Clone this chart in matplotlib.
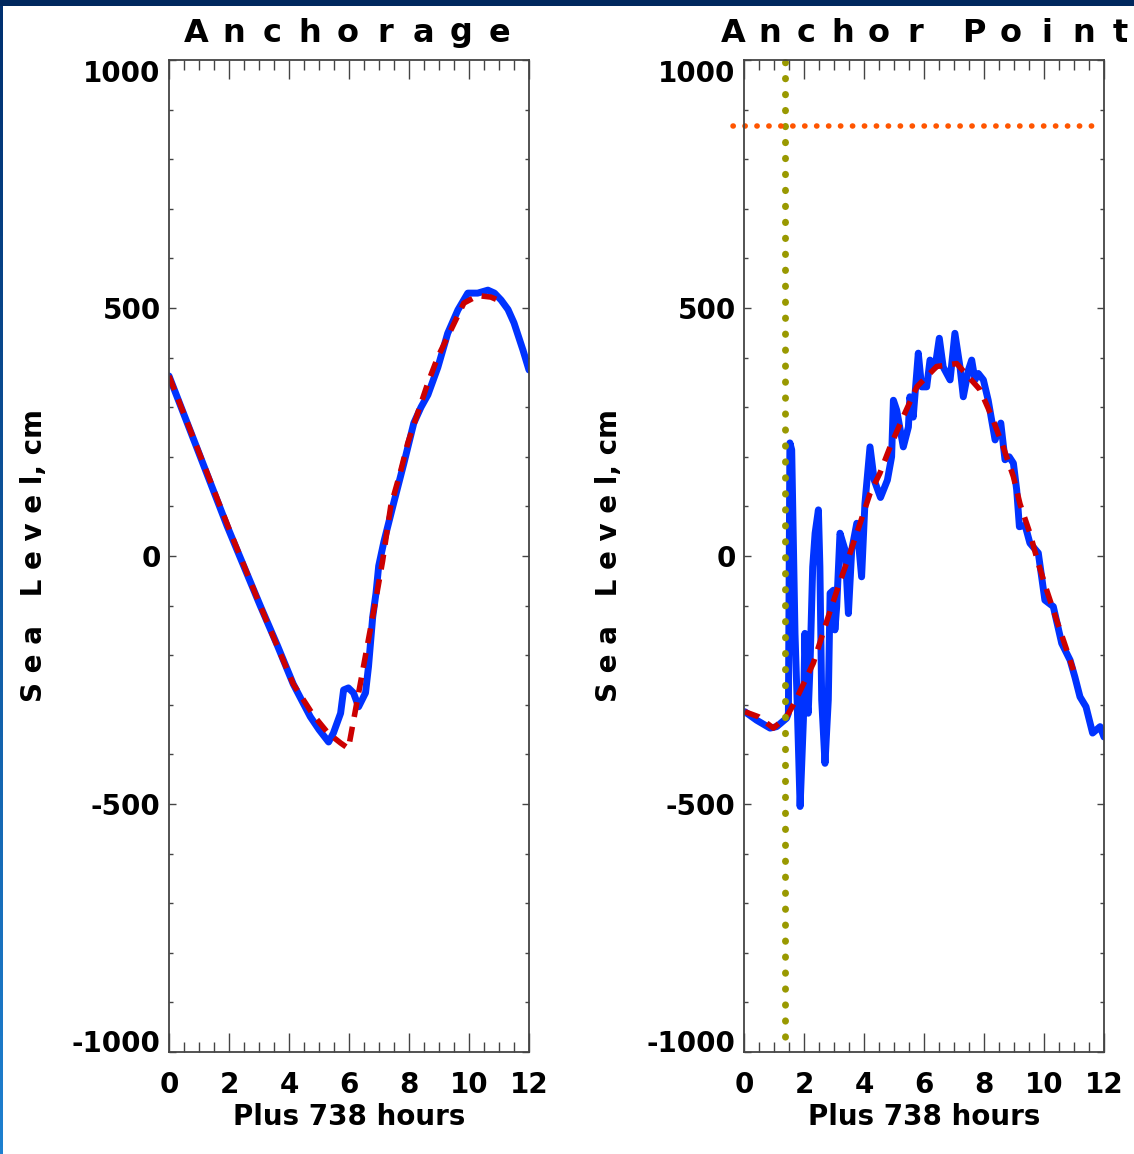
import matplotlib
matplotlib.use("Agg")
import matplotlib.pyplot as plt
import numpy as np
from matplotlib.ticker import MultipleLocator

# Anchorage: observed and model sea level (hours after 738 h, cm)
anc_obs_t = [0, 0.5, 1.0, 1.94, 3.04, 3.61, 4.14, 4.45, 4.71, 5.0, 5.32, 5.48,
             5.72, 5.82, 5.98, 6.15, 6.32, 6.55, 6.65, 6.79, 6.9, 6.99, 7.16,
             7.49, 7.83, 8.16, 8.4, 8.63, 8.96, 9.29, 9.63, 9.96, 10.29,
             10.63, 10.85, 11.07, 11.3, 11.5, 11.8, 12.0]
anc_obs_v = [363, 285, 207, 60, -100, -180, -258, -294, -324, -350, -375, -357,
             -317, -270, -266, -276, -304, -276, -223, -123, -75, -20, 28,
             107, 187, 268, 300, 325, 380, 449, 496, 530, 530,
             536, 530, 516, 497, 470, 415, 375]
anc_mod_t = [0, 2, 3.04, 4.14, 4.8, 5.3, 5.72, 5.98, 6.4, 6.89, 7.12, 7.39,
             7.73, 7.96, 8.29, 8.63, 8.96, 9.40, 9.83, 10.3, 10.73, 11.0]
anc_mod_v = [363, 55, -100, -258, -320, -357, -377, -388, -250, -89, -10, 100,
             173, 228, 288, 349, 401, 456, 510, 525, 522, 515]

# Anchor Point
apt_obs_t = [0.03, 0.42, 0.87, 1.09, 1.42, 1.48, 1.53, 1.59, 1.70, 1.76, 1.87,
             1.98, 2.03, 2.09, 2.14, 2.2, 2.29, 2.37, 2.48, 2.53, 2.59, 2.7,
             2.81, 2.87, 2.98, 3.03, 3.09, 3.2, 3.37, 3.48, 3.59, 3.76, 3.92,
             4.03, 4.2, 4.34, 4.55, 4.78, 4.92, 4.98, 5.09, 5.31, 5.48, 5.53,
             5.64, 5.81, 5.92, 6.09, 6.2, 6.37, 6.51, 6.64, 6.87, 7.03, 7.2,
             7.31, 7.48, 7.59, 7.7, 7.81, 7.98, 8.14, 8.37, 8.56, 8.7, 8.84,
             8.98, 9.09, 9.18, 9.37, 9.53, 9.81, 10.03, 10.31, 10.59, 10.87,
             11.03, 11.2, 11.4, 11.62, 11.87, 12.0]
apt_obs_v = [-314, -331, -347, -344, -327, -317, 228, 214, -156, -270, -505,
             -331, -156, -290, -317, -223, -22, 46, 93, -22, -290, -418,
             -290, -75, -69, -149, -102, 46, 12, -116, 12, 66, -42,
             105, 220, 153, 118, 153, 200, 314, 294, 220, 260, 321,
             280, 409, 341, 341, 395, 381, 439, 381, 355, 449, 381,
             321, 375, 395, 355, 368, 355, 314, 234, 268, 194, 200,
             187, 133, 59, 62, 26, 6, -89, -102, -176, -210,
             -244, -284, -304, -357, -344, -365]
apt_mod_t = [0.03, 0.48, 0.98, 1.42, 1.70, 2.31, 2.81, 3.14, 3.53, 3.87, 4.2,
             4.53, 4.87, 5.31, 5.76, 6.42, 7.09, 7.87, 8.26, 8.64, 8.98, 9.2,
             9.53, 9.81, 10.09, 10.42, 10.76, 10.98]
apt_mod_v = [-314, -324, -347, -324, -294, -216, -122, -62, 5, 66, 126,
             167, 220, 281, 341, 382, 388, 335, 281, 220, 160, 105,
             46, -15, -69, -129, -190, -230]

arrival_t = 1.37          # vertical marker
max_level = 867           # horizontal marker

W, H = 1134, 1154
BLUE = "#0033ff"
RED = "#cc0000"
FONT = dict(fontweight="bold", family="DejaVu Sans")

fig = plt.figure(figsize=(W / 100, H / 100), dpi=100)

# frame decoration: navy bar on top, thin strip on the left
bar = fig.add_axes([0, 1 - 6 / H, 1, 6 / H])
bar.set_facecolor("#00285e")
bar.set_xticks([]); bar.set_yticks([])
for s in bar.spines.values():
    s.set_visible(False)
strip = fig.add_axes([0, 0, 2.5 / W, 1 - 6 / H])
grad = np.linspace(0, 1, 256).reshape(-1, 1)
strip.imshow(grad, aspect="auto", cmap=matplotlib.colors.LinearSegmentedColormap.from_list(
    "edge", ["#1e80d0", "#003070"]), origin="lower")
strip.axis("off")


def setup_axes(left):
    ax = fig.add_axes([left / W, 1 - 1052 / H, 360 / W, 992 / H])
    ax.set_xlim(0, 12)
    ax.set_ylim(-1000, 1000)
    ax.xaxis.set_major_locator(MultipleLocator(2))
    ax.xaxis.set_minor_locator(MultipleLocator(0.5))
    ax.set_yticks([-1000, -500, 0, 500, 1000])
    ax.yaxis.set_minor_locator(MultipleLocator(100))
    ax.set_yticklabels(["-1000", "-500", "0", "500", "1000"])
    ax.tick_params(which="both", direction="in", top=True, right=True,
                   color="#444444", width=1.0)
    ax.tick_params(axis="x", which="major", length=13.5, pad=14, labelsize=20)
    ax.tick_params(axis="x", which="minor", length=7)
    ax.tick_params(axis="y", which="major", length=5, pad=6, labelsize=20)
    ax.tick_params(axis="y", which="minor", length=2.8)
    for lab in ax.get_xticklabels() + ax.get_yticklabels():
        lab.set_fontweight("bold")
    labs = ax.get_yticklabels()
    labs[0].set_va("baseline")
    labs[-1].set_va("top")
    for s in ax.spines.values():
        s.set_color("#444444")
        s.set_linewidth(1.3)
    ax.text(0.5, -0.066, "Plus 738 hours", transform=ax.transAxes,
            ha="center", va="center", fontsize=20, **FONT)
    ax.text(-0.375, 0.5, "S e a   L e v e l, cm", transform=ax.transAxes,
            ha="center", va="center", rotation=90, fontsize=20, **FONT)
    return ax


def spaced_title(word, x0, pitch, gap):
    x = x0
    for ch in word:
        if ch == " ":
            x += gap
            continue
        fig.text(x / W, 1 - 33 / H, ch, ha="center", va="center",
                 fontsize=23, **FONT)
        x += pitch


ax1 = setup_axes(169)
ax1.plot(anc_obs_t, anc_obs_v, color=BLUE, lw=5, solid_joinstyle="round",
         solid_capstyle="round")
ax1.plot(anc_mod_t, anc_mod_v, color=RED, lw=4, linestyle=(0, (2.7, 1.8)))
spaced_title("Anchorage", 196, 37.9, 0)

ax2 = setup_axes(744)
ax2.plot(apt_obs_t, apt_obs_v, color=BLUE, lw=5, solid_joinstyle="round",
         solid_capstyle="round")
ax2.plot(apt_mod_t, apt_mod_v, color=RED, lw=4, linestyle=(0, (2.7, 1.8)))
ax2.plot([arrival_t, arrival_t], [995, -985], color="#999900", lw=5,
         linestyle=(0, (0.05, 2.25)), dash_capstyle="round", clip_on=False)
ax2.plot([-0.37, 11.87], [max_level, max_level], color="#ff5500", lw=4,
         linestyle=(0, (0.05, 2.1)), dash_capstyle="round", clip_on=False)
spaced_title("Anchor Point", 733, 36.5, 22)

fig.savefig("out.png", dpi=100, facecolor="white")
